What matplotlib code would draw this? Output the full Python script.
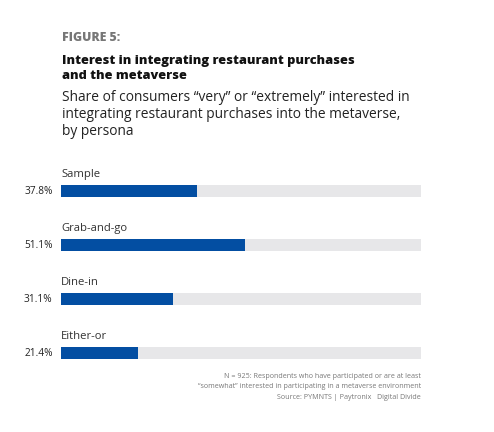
import matplotlib
matplotlib.use("Agg")
import matplotlib.pyplot as plt

categories = ["Sample", "Grab-and-go", "Dine-in", "Either-or"]
values = [37.8, 51.1, 31.1, 21.4]
value_labels = ["37.8%", "51.1%", "31.1%", "21.4%"]

W, H = 494, 432
fig = plt.figure(figsize=(W / 100, H / 100), dpi=100)
fig.patch.set_facecolor("white")

def fx(px):
    return px / W

def fy(py):
    return 1 - py / H

FONT = "Open Sans"

ax = fig.add_axes([fx(61), fy(380), 360 / W, 216 / H])
ax.set_xlim(0, 100)
ax.set_ylim(3.5, -0.5)
ax.axis("off")

blue = "#034EA2"
track = "#E7E7E9"
ys = list(range(len(categories)))
ax.barh(ys, [100] * len(values), height=0.22, color=track, left=0)
ax.barh(ys, values, height=0.22, color=blue, left=0)
for y, c, lab in zip(ys, categories, value_labels):
    ax.text(0, y - 0.31, c, ha="left", va="center", fontsize=8.1,
            family=FONT, color="#333333")
    ax.annotate(lab, (0, y), xytext=(-6, 0), textcoords="offset points",
                ha="right", va="center", fontsize=7.3, family=FONT, color="#222222")

fig.text(fx(62), fy(38), "FIGURE 5:", ha="left", va="center", fontsize=8.8,
         family=FONT, fontweight="heavy", color="#777777")
fig.text(fx(62), fy(68.5), "Interest in integrating restaurant purchases\nand the metaverse",
         ha="left", va="center", fontsize=9.2, family=FONT, fontweight="heavy",
         color="#111111", linespacing=1.35)
fig.text(fx(62), fy(114.5),
         "Share of consumers \u201cvery\u201d or \u201cextremely\u201d interested in\n"
         "integrating restaurant purchases into the metaverse,\nby persona",
         ha="left", va="center", fontsize=9.9, family=FONT,
         color="#222222", linespacing=1.17)

fig.text(fx(421), fy(387),
         "N = 925: Respondents who have participated or are at least\n"
         "\u201csomewhat\u201d interested in participating in a metaverse environment\n"
         "Source: PYMNTS | Paytronix   Digital Divide",
         ha="right", va="center", fontsize=5.15, family=FONT, color="#777777",
         linespacing=1.7)

fig.savefig("out.png", dpi=100, facecolor="white")
